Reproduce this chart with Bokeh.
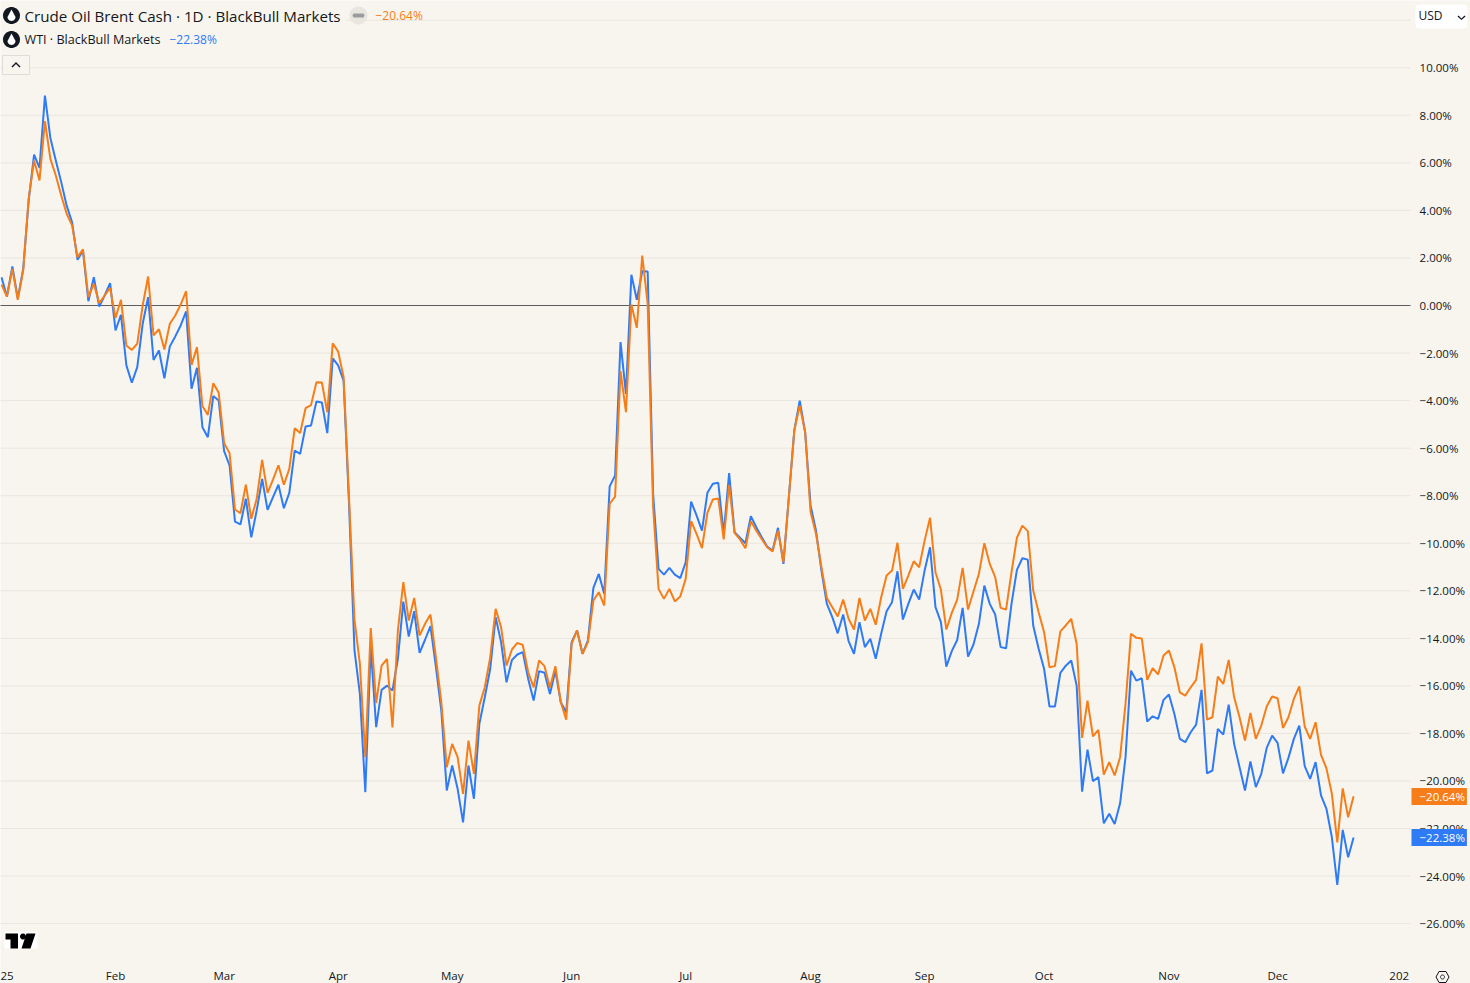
import math

from bokeh.embed import file_html
from bokeh.models import BoxAnnotation, FixedTicker, Label, PolyAnnotation, Range1d
from bokeh.plotting import figure
from bokeh.resources import INLINE

# percent change, one value per trading day
wti = [
    1.19, .38, 1.64, .3, 1.55, 4.4, 6.35, 5.79, 8.83, 7.05,
    6.1, 5.19, 4.2, 3.5, 1.92, 2.31, .18, 1.19, -.04, .42,
    .94, -1.05, -.39, -2.52, -3.25, -2.59, -.77, .35, -2.29, -1.89,
    -3.06, -1.72, -1.3, -.84, -.25, -3.5, -2.62, -5.12, -5.54, -3.81,
    -4.0, -6.13, -6.73, -9.09, -9.21, -8.13, -9.75, -8.62, -7.29, -8.6,
    -8.06, -7.54, -8.53, -7.88, -6.1, -6.24, -5.09, -5.05, -4.04, -4.08,
    -5.37, -2.22, -2.52, -3.16, -8.33, -14.5, -16.34, -20.47, -14.37, -17.74,
    -16.17, -15.99, -16.2, -14.86, -12.46, -13.93, -12.86, -14.61, -14.06, -13.49,
    -15.2, -17.04, -20.4, -19.35, -20.33, -21.74, -19.35, -20.75, -17.6, -16.48,
    -15.29, -13.11, -14.16, -15.85, -14.91, -14.68, -14.58, -15.71, -16.62, -15.38,
    -15.45, -16.34, -15.36, -16.69, -17.11, -14.16, -13.67, -14.65, -14.09, -11.88,
    -11.29, -12.13, -7.61, -7.15, -1.54, -3.72, 1.29, .24, 1.44, 1.43,
    -7.92, -11.08, -11.32, -11.04, -11.32, -11.47, -10.8, -8.25, -8.83, -9.47,
    -7.88, -7.5, -7.46, -9.61, -7.05, -9.54, -9.77, -10.0, -8.86, -9.33,
    -9.75, -10.14, -10.31, -9.35, -10.87, -8.06, -5.26, -4.0, -5.33, -8.41,
    -9.47, -11.15, -12.55, -13.11, -13.79, -13.0, -14.12, -14.65, -13.32, -14.37,
    -14.02, -14.86, -13.81, -12.86, -12.48, -11.18, -13.21, -12.55, -11.95, -12.37,
    -11.15, -10.17, -12.69, -13.32, -15.19, -14.54, -14.07, -12.72, -14.77, -14.26,
    -13.39, -11.78, -12.55, -13.0, -14.37, -14.42, -12.55, -11.12, -10.63, -10.69,
    -13.46, -14.44, -15.28, -16.87, -16.87, -15.45, -15.15, -14.93, -15.99, -20.45,
    -18.68, -20.01, -19.84, -21.78, -21.38, -21.81, -20.94, -19.0, -15.36, -15.78,
    -15.68, -17.5, -17.28, -17.39, -16.59, -16.36, -17.18, -18.23, -18.37, -17.95,
    -17.63, -16.17, -19.68, -19.56, -17.81, -18.05, -16.79, -18.44, -19.42, -20.4,
    -19.18, -20.26, -19.7, -18.61, -18.09, -18.4, -19.68, -19.03, -18.23, -17.67,
    -19.38, -19.91, -19.21, -20.61, -21.17, -22.37, -24.37, -22.06, -23.21, -22.38,
]
brent = [
    .88, .38, 1.54, .24, 1.47, 4.5, 6.1, 5.26, 7.75, 6.17,
    5.47, 4.63, 3.86, 3.37, 2.03, 2.36, .35, .91, .1, .42,
    .74, -.52, .24, -1.68, -1.87, -1.61, 0, 1.22, -1.26, -1.0,
    -1.85, -.77, -.42, .04, .6, -2.5, -1.75, -4.23, -4.6, -3.27,
    -3.67, -5.79, -6.21, -8.58, -8.74, -7.54, -8.97, -8.13, -6.49, -7.88,
    -7.32, -6.72, -7.54, -6.87, -5.16, -5.36, -4.32, -4.19, -3.23, -3.24,
    -4.49, -1.59, -1.94, -3.01, -8.06, -13.2, -15.07, -19.0, -13.57, -16.73,
    -15.15, -14.87, -17.75, -13.67, -11.64, -13.25, -12.3, -13.88, -13.39, -13.0,
    -14.8, -16.69, -19.42, -18.44, -19.0, -20.54, -18.3, -19.7, -16.83, -16.06,
    -14.8, -12.76, -13.53, -15.15, -14.47, -14.19, -14.28, -15.43, -16.06, -14.93,
    -15.17, -16.08, -15.17, -16.69, -17.42, -14.23, -13.67, -14.65, -14.16, -12.41,
    -12.06, -12.62, -8.34, -8.04, -2.76, -4.49, .04, -.94, 2.1, .07,
    -8.48, -11.92, -12.34, -11.92, -12.45, -12.24, -11.5, -9.07, -9.61, -10.21,
    -8.72, -8.16, -8.12, -9.84, -7.54, -9.56, -9.84, -10.21, -9.07, -9.47,
    -9.82, -10.17, -10.35, -9.47, -10.8, -8.06, -5.26, -4.21, -5.33, -8.69,
    -9.61, -11.01, -12.3, -12.69, -13.08, -12.37, -13.18, -13.63, -12.3, -13.25,
    -12.76, -13.43, -12.27, -11.36, -11.15, -9.98, -11.92, -11.36, -10.76, -11.01,
    -9.89, -8.93, -11.22, -11.96, -13.63, -12.93, -12.37, -11.04, -12.79, -12.03,
    -11.29, -10.0, -10.87, -11.43, -12.72, -12.79, -11.22, -9.77, -9.26, -9.49,
    -11.99, -12.9, -13.74, -15.22, -15.17, -13.71, -13.46, -13.18, -14.23, -18.19,
    -16.62, -18.12, -17.85, -19.73, -19.21, -19.77, -19.0, -16.76, -13.81, -13.98,
    -14.01, -15.75, -15.26, -15.52, -14.72, -14.51, -15.22, -16.27, -16.41, -16.06,
    -15.75, -14.21, -17.42, -17.32, -15.61, -15.92, -14.91, -16.48, -17.32, -18.3,
    -17.14, -18.23, -17.67, -16.87, -16.45, -16.52, -17.77, -17.32, -16.55, -16.02,
    -17.71, -18.23, -17.53, -18.9, -19.47, -20.54, -22.58, -20.31, -21.53, -20.64,
]

# x axis, in trading days from the first point (2025 and 2026 are cut off by the panes)
month_pos = [0.6, 21, 41, 62, 83, 105, 126, 149, 170, 192, 215, 235, 257.4]
month_names = ['25', 'Feb', 'Mar', 'Apr', 'May', 'Jun', 'Jul', 'Aug', 'Sep', 'Oct', 'Nov', 'Dec', '202']
pct_ticks = [12, 10, 8, 6, 4, 2, 0, -2, -4, -6, -8, -10, -12, -14, -16, -18, -20, -22, -24, -26]

BG = '#F8F5EE'
BLUE = '#2F7AF5'
ORANGE = '#F67E1A'
INK = '#131722'
FONT = 'Open Sans'

# where the chart pane ends, the scales sit beyond it
pane_right = 259.5
pane_bottom = -27.64

days = list(range(len(wti)))

# annotations get clipped to the frame, so the frame fills the page and the axes are moved inside it
p = figure(width=1470, height=983, x_range=Range1d(-0.184, 270.53), y_range=Range1d(-28.52, 12.83),
           y_axis_location='right', output_backend='svg', toolbar_location=None,
           min_border=0, background_fill_color=BG, border_fill_color=BG, outline_line_color=None)
# sit on the page corner, the original has no white margin
p.styles = {'position': 'absolute', 'left': '0px', 'top': '0px'}
p.grid.visible = False

p.xaxis.fixed_location = pane_bottom
p.xaxis.ticker = FixedTicker(ticks=month_pos)
p.xaxis.major_label_overrides = dict(zip(month_pos, month_names))
p.xaxis.major_label_standoff = 5
p.yaxis.fixed_location = pane_right
p.yaxis.ticker = FixedTicker(ticks=pct_ticks)
p.yaxis.major_label_overrides = {t: ('\u2212' if t < 0 else '') + f'{abs(t)}.00%' for t in pct_ticks}
p.yaxis.major_label_standoff = 9
for ax in (p.xaxis, p.yaxis):
    ax.axis_line_color = None
    ax.major_tick_line_color = None
    ax.minor_tick_line_color = None
    ax.major_tick_out = 0
    ax.major_label_text_font = FONT
    ax.major_label_text_font_size = '11.5px'
    ax.major_label_text_color = INK

# grid lines stop at the price scale
grid_colors = ['#5D5E60' if t == 0 else '#E9E6DF' for t in pct_ticks]
p.segment([days[0] - 1] * len(pct_ticks), pct_ticks, [pane_right] * len(pct_ticks), pct_ticks,
          color=grid_colors, line_width=1)

p.line(days, wti, color=BLUE, line_width=2)
p.line(days, brent, color=ORANGE, line_width=2)


def text(x, y, s, size='12px', color=INK, **kw):
    p.add_layout(Label(x=x, y=y, x_units='canvas', y_units='canvas', text=s,
                       text_font=FONT, text_font_size=size, text_color=color,
                       text_baseline='middle', **kw))


def poly(xs, ys, fill=INK, line=None, width=1):
    p.add_layout(PolyAnnotation(xs=xs, ys=ys, xs_units='canvas', ys_units='canvas',
                                fill_color=fill, fill_alpha=1 if fill else 0,
                                line_color=line, line_width=width, line_alpha=1 if line else 0))


def ring(cx, cy, r, fill=INK, line=None, n=40):
    angs = [2 * math.pi * k / n for k in range(n)]
    poly([cx + r * math.cos(a) for a in angs], [cy + r * math.sin(a) for a in angs], fill, line)


def oil_icon(cx, cy):
    ring(cx, cy, 8.5)
    angs = [math.pi * k / 12 for k in range(13)]
    poly([cx] + [cx + 4 * math.cos(a) for a in angs],
         [cy - 6] + [cy + 1.5 + 4 * math.sin(a) for a in angs], fill='#FFFFFF')


# legend rows, the top row hides the grid line behind it
poly([0, 345, 345, 0], [5, 5, 25, 25], fill=BG)
oil_icon(11, 15)
oil_icon(11, 39)
text(24, 15, 'Crude Oil Brent Cash \u00b7 1D \u00b7 BlackBull Markets', size='15.15px')
ring(358, 15, 9, fill='#E8E6DF')
poly([353, 363, 364, 363, 353, 352], [13, 13, 15, 17, 17, 15], fill='#9A9B9E')
text(375, 15, '\u221220.64%', color=ORANGE)
text(24, 39, 'WTI \u00b7 BlackBull Markets', size='12.6px')
text(169, 39, '\u221222.38%', color=BLUE)

# collapse button
poly([2, 29, 29, 2], [55, 55, 74, 74], fill=BG, line='#DFDCD5')
poly([11, 15.5, 20, 19, 15.5, 12], [66, 61.5, 66, 67, 63.5, 67], fill=INK)

# currency box, it covers the 12.00% tick label
p.add_layout(BoxAnnotation(left=1415, right=1467, top=4, bottom=28, left_units='canvas', right_units='canvas',
                           top_units='canvas', bottom_units='canvas', fill_color='#FFFFFF', fill_alpha=1,
                           line_color=None, border_radius=4))
text(1418, 15, 'USD', size='12px')
poly([1458, 1461, 1464, 1465, 1461, 1457], [15, 18, 15, 16, 19.5, 16], fill=INK)

# last value tags on the price scale
text(1411, 796, '\u221220.64%', size='11.5px', color='#FFFFFF', background_fill_color=ORANGE,
     padding=dict(left=8, right=2, top=1, bottom=1))
text(1411, 837, '\u221222.38%', size='11.5px', color='#FFFFFF', background_fill_color=BLUE,
     padding=dict(left=8, right=2, top=1, bottom=1))

# tradingview mark
poly([4, 37, 37, 4], [931, 931, 948, 948], fill='#FFFFFF')
poly([5, 17.5, 17.5, 10, 10, 5], [933, 933, 948, 948, 939, 939], fill='#000000')
ring(22.5, 936, 3, fill='#000000')
poly([26, 35, 30, 21], [933, 933, 948, 948], fill='#000000')

# settings hexagon
poly([1435.5, 1438.5, 1445.5, 1448.5, 1445.5, 1438.5], [976.5, 971, 971, 976.5, 982, 982], fill=None, line=INK)
ring(1442, 976.5, 2, fill=None, line=INK)

with open('out.html', 'w') as f:
    f.write(file_html(p, INLINE))
